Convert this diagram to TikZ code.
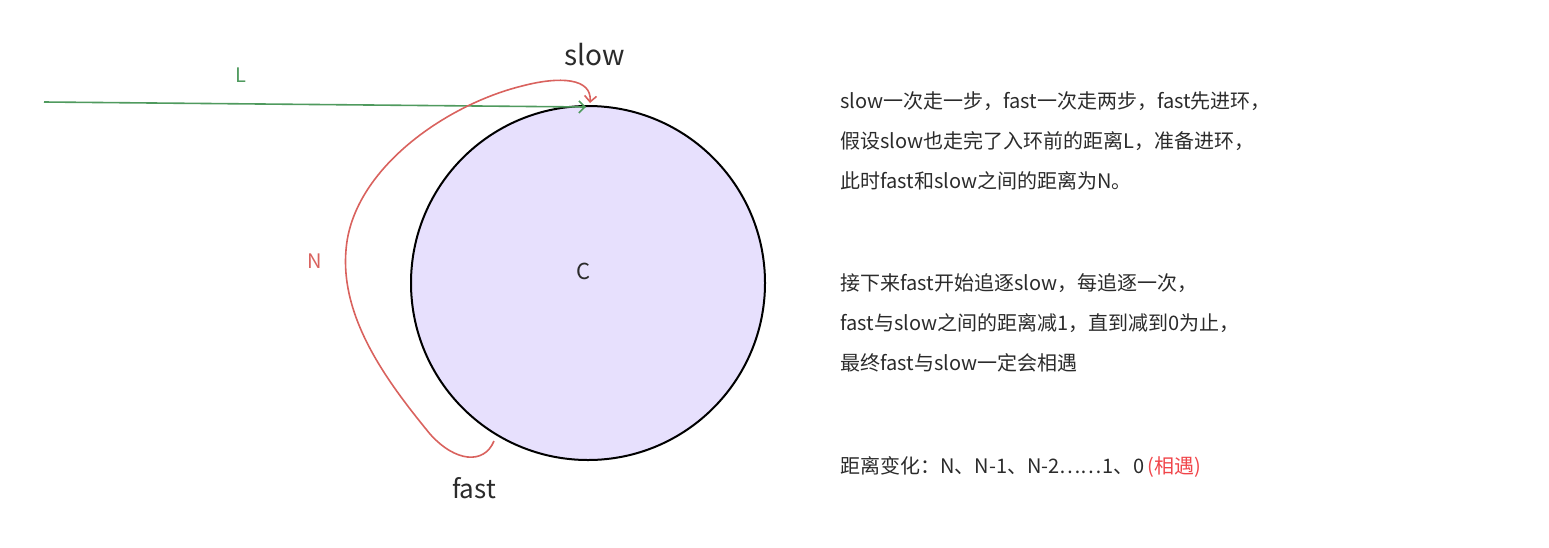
\documentclass[tikz,border=0pt]{standalone}
\usepackage{fontspec}
\setmainfont{Noto Sans CJK SC}
\usetikzlibrary{arrows.meta}
\definecolor{lgreen}{HTML}{4F9A5E}
\definecolor{lred}{HTML}{D9625E}
\definecolor{lfill}{HTML}{E7E0FD}
\definecolor{txt}{HTML}{2B2B2B}
\definecolor{hl}{HTML}{F0454A}
\tikzset{
  lbl/.style={text=txt, inner sep=0pt},
  para/.style={text=txt, inner sep=0pt, anchor=west, font=\fontsize{20}{24}\selectfont},
}
\begin{document}
\begin{tikzpicture}[x=1pt,y=-1pt]
\useasboundingbox (0,0) rectangle (1549,547);
\node[circle, draw=black, line width=2pt, fill=lfill, minimum size=354pt, inner sep=0pt] (ring) at (588,283) {};
\node[lbl, font=\fontsize{22}{26}\selectfont] (c) at (584,271) {C};
\coordinate (start) at (44,102);
\coordinate (entry) at (586,107);
\draw[lgreen, line width=1.6pt, -{Straight Barb[length=6pt,width=12pt]}] (start) -- (entry);
\node[lbl, text=lgreen, font=\fontsize{20}{24}\selectfont] (L) at (241,75) {L};
\coordinate (fpos) at (494,441);
\coordinate (spos) at (590,103);
\draw[lred, line width=1.6pt, -{Straight Barb[length=6pt,width=12pt]}]
  (fpos) .. controls (484,465) and (455,462) .. (430,434)
  .. controls (390,385) and (340,320) .. (346,250)
  .. controls (352,170) and (445,105) .. (522,86)
  .. controls (560,76) and (592,78) .. (spos);
\node[lbl, text=lred, font=\fontsize{20}{24}\selectfont] (N) at (315,261) {N};
\node[lbl, font=\fontsize{28}{32}\selectfont] (slow) at (595,55) {slow};
\node[lbl, font=\fontsize{26}{30}\selectfont] (fast) at (474,488) {fast};
\node[para] (t1) at (840,101) {slow一次走一步，fast一次走两步，fast先进环，};
\node[para] (t2) at (840,141) {假设slow也走完了入环前的距离L，准备进环，};
\node[para] (t3) at (840,181) {此时fast和slow之间的距离为N。};
\node[para] (t4) at (840,283) {接下来fast开始追逐slow，每追逐一次，};
\node[para] (t5) at (840,323) {fast与slow之间的距离减1，直到减到0为止，};
\node[para] (t6) at (840,363) {最终fast与slow一定会相遇};
\node[para] (t7) at (840,467) {距离变化：N、N-1、N-2……1、0\,\textcolor{hl}{(相遇)}};
\end{tikzpicture}
\end{document}
